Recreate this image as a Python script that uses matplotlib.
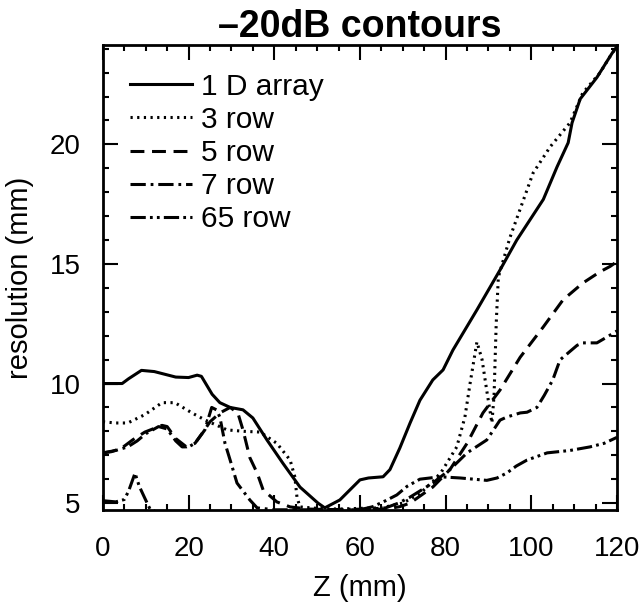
import matplotlib
matplotlib.use("Agg")
import matplotlib.pyplot as plt
from matplotlib.ticker import MultipleLocator

plt.rcParams['font.family'] = ['Liberation Sans', 'DejaVu Sans']
plt.rcParams['lines.scale_dashes'] = False

# ---- data ----
z_1d = [0, 4.5, 6, 9, 12, 17, 20, 22, 23, 24.5, 25.5, 27.3, 29.7, 32.7, 35, 38.3, 42, 46, 50.2, 51.8,
        55.3, 60, 62, 65.4, 67, 69.3, 71.7, 74, 77, 79.4, 81.7, 87.3, 92.7, 96.6, 102.8, 106, 108.6,
        109.5, 111.4, 115.3, 118.8, 120]
r_1d = [10.0, 10.0, 10.2, 10.55, 10.5, 10.27, 10.25, 10.35, 10.3, 9.85, 9.55, 9.2, 9.0, 8.9, 8.56, 7.64,
        6.67, 5.67, 5.0, 4.8, 5.13, 5.97, 6.05, 6.1, 6.4, 7.3, 8.35, 9.3, 10.15, 10.57, 11.4, 13.08,
        14.75, 16.0, 17.7, 19.06, 20.07, 20.9, 21.9, 22.8, 23.8, 24.1]

z_3row = [0, 3, 5.8, 9.8, 13.8, 16.8, 20.8, 23.8, 26, 29, 33, 36.7, 40.6, 43.7, 44.8, 45.3, 46, 50,
          55, 60, 65, 70, 74, 77, 79, 82.6, 84.5, 85.7, 87.3, 88.5, 89.6, 90.8, 91.3, 91.8, 92.3,
          95, 100.4, 104.4, 109, 112, 116, 118.8, 120]
r_3row = [8.4, 8.35, 8.35, 8.7, 9.2, 9.2, 8.77, 8.48, 8.3, 8.06, 8.0, 7.97, 7.5, 6.8, 6.1, 5.25, 4.84,
          4.78, 4.75, 4.78, 4.8, 5.0, 5.4, 5.9, 6.3, 7.35, 8.6, 10.0, 11.74, 11.0, 9.7, 8.35, 9.5,
          12.5, 14.45, 16.1, 18.8, 19.9, 20.9, 22.15, 22.99, 23.8, 24.1]

z_5row = [0, 2, 4.4, 7, 9.8, 13.8, 15, 17, 19.5, 21.5, 23.5, 25, 27.3, 29.7, 31.5, 32.7, 34.3, 36,
          37.4, 40.6, 43.7, 48, 55, 60, 66, 69.3, 71.7, 77, 81, 85, 88.7, 92.7, 97.4, 102.8, 107.4,
          112, 116, 118.4, 120]
r_5row = [7.1, 7.15, 7.3, 7.65, 7.97, 8.25, 8.2, 7.7, 7.35, 7.5, 8.0, 8.4, 8.77, 9.0, 8.77, 8.06, 6.9,
          6.26, 5.55, 5.05, 4.84, 4.75, 4.72, 4.72, 4.75, 4.85, 5.0, 5.67, 6.4, 7.5, 8.77, 9.73, 11.1,
          12.37, 13.5, 14.2, 14.67, 14.9, 15.1]

z_7row = [0, 3, 5.8, 8, 10, 13, 15, 17, 18.5, 20, 21.5, 23.8, 25.4, 26.5, 27.3, 28.5, 29.7, 31.3,
          34.3, 36, 40, 50, 62, 66, 69, 71.7, 77, 81, 85, 89.6, 92.7, 94.3, 97.4, 99, 101.3, 103, 105,
          106.7, 110.7, 112, 115.3, 117.7, 120]
r_7row = [7.1, 7.2, 7.35, 7.6, 7.9, 8.2, 8.1, 7.6, 7.35, 7.35, 7.5, 8.06, 9.0, 8.9, 8.6, 7.5, 6.8,
          5.84, 5.13, 4.8, 4.72, 4.72, 4.75, 4.8, 5.0, 5.25, 5.84, 6.4, 7.1, 7.64, 8.47, 8.6, 8.77,
          8.8, 9.0, 9.5, 10.15, 10.99, 11.6, 11.7, 11.7, 11.95, 12.2]

z_65row = [0, 3, 5, 6, 7.5, 8.5, 9.8, 11, 14, 30, 55, 60, 63, 66, 68.6, 71, 74, 78.7, 83.4, 89.6,
           92, 94.3, 96.5, 99, 103.7, 109, 113.7, 117, 120]
r_65row = [5.1, 5.05, 5.15, 5.5, 6.25, 5.7, 5.2, 4.75, 4.5, 4.5, 4.5, 4.72, 4.85, 5.1, 5.34, 5.7,
           6.0, 6.1, 6.05, 5.95, 6.05, 6.26, 6.55, 6.8, 7.1, 7.2, 7.35, 7.5, 7.75]

labels = ['1 D array', '3 row', '5 row', '7 row', '65 row']
title = '\u201320dB contours'
xlabel = 'Z (mm)'
ylabel = 'resolution (mm)'

# ---- plot ----
fig = plt.figure(figsize=(6.43, 6.04), dpi=100)
ax = fig.add_axes([0.160, 0.1556, 0.7996, 0.77])

lw = 2.2
ax.plot(z_1d, r_1d, color='black', lw=lw, linestyle='-', label=labels[0])
ax.plot(z_3row, r_3row, color='black', lw=lw, linestyle=(0, (1.6, 3.2)), label=labels[1])
ax.plot(z_5row, r_5row, color='black', lw=lw, linestyle=(0, (10, 5.5)), label=labels[2])
ax.plot(z_7row, r_7row, color='black', lw=lw, linestyle=(0, (11, 3.5, 2, 3.5)), label=labels[3])
ax.plot(z_65row, r_65row, color='black', lw=lw, linestyle=(0, (11, 3, 2, 3, 2, 3)), label=labels[4])

ax.set_xlim(0, 120)
ax.set_ylim(4.71, 24.16)
ax.xaxis.set_major_locator(MultipleLocator(20))
ax.xaxis.set_minor_locator(MultipleLocator(5))
ax.yaxis.set_major_locator(MultipleLocator(5))
ax.yaxis.set_minor_locator(MultipleLocator(1))
ax.tick_params(which='both', direction='in', top=True, right=True, width=1.5, labelsize=20, colors='black')
ax.tick_params(which='major', length=10.5)
ax.tick_params(which='minor', length=4.5)
ax.tick_params(axis='x', which='major', pad=19)
ax.tick_params(axis='y', which='major', pad=16)
for s in ax.spines.values():
    s.set_linewidth(2.0)

ax.set_title(title, fontsize=27, fontweight='bold', pad=4)
ax.set_xlabel(xlabel, fontsize=21, labelpad=8)
ax.set_ylabel(ylabel, fontsize=21, labelpad=11)

ax.legend(loc='upper left', bbox_to_anchor=(0.052, 0.94), frameon=False, fontsize=21.5,
          handlelength=2.1, handletextpad=0.3, labelspacing=0.17, borderaxespad=0, borderpad=0)

fig.savefig('out.png', dpi=100)
